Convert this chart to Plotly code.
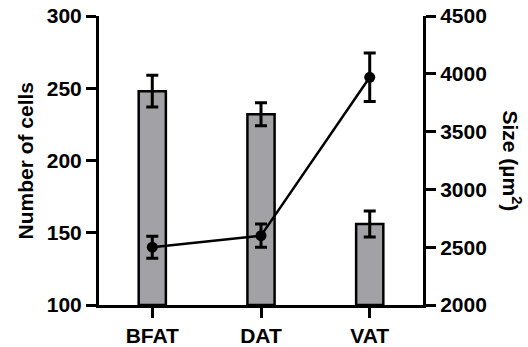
import plotly.graph_objects as go

categories = ["BFAT", "DAT", "VAT"]
cell_counts = [248, 232, 156]
cell_err = [11, 8, 9]
size_vals = [2500, 2600, 3970]
size_err = [95, 100, 210]

FONT = "Arial, Liberation Sans, sans-serif"

fig = go.Figure()
fig.add_trace(go.Bar(
    x=categories, y=[c - 100 for c in cell_counts], base=100,
    width=0.25,
    marker=dict(color="#a2a1a6", line=dict(color="black", width=2.5)),
    error_y=dict(type="data", array=cell_err, color="black", thickness=3, width=6),
    showlegend=False, cliponaxis=False,
))
fig.add_trace(go.Scatter(
    x=categories, y=size_vals, yaxis="y2", mode="lines+markers",
    line=dict(color="black", width=2.5),
    marker=dict(color="black", size=11),
    error_y=dict(type="data", array=size_err, color="black", thickness=3, width=6),
    showlegend=False, cliponaxis=False,
))

tickfont = dict(family=FONT, size=21, color="black", weight="bold")
axis_common = dict(showline=True, linecolor="black", linewidth=3,
                   ticks="outside", ticklen=10, tickwidth=2.5, tickcolor="black",
                   tickfont=tickfont, showgrid=False, zeroline=False, fixedrange=True)
fig.update_layout(
    width=528, height=347,
    margin=dict(l=99, r=105, t=16, b=42, autoexpand=False),
    plot_bgcolor="white", paper_bgcolor="white",
    xaxis=dict(range=[-0.49, 2.49], **axis_common),
    yaxis=dict(range=[100, 300], tickvals=[100, 150, 200, 250, 300], **axis_common),
    yaxis2=dict(range=[2000, 4500], tickvals=[2000, 2500, 3000, 3500, 4000, 4500],
                overlaying="y", side="right", **axis_common),
    annotations=[
        dict(text="Number of cells", x=0, xshift=-74, y=0.5, xref="paper", yref="paper",
             showarrow=False, textangle=-90, xanchor="center", yanchor="middle",
             font=dict(family=FONT, size=21, color="black", weight="bold")),
        dict(text="Size (µm<sup>2</sup>)", x=1, xshift=89, y=0.5, xref="paper", yref="paper",
             showarrow=False, textangle=90, xanchor="center", yanchor="middle",
             font=dict(family=FONT, size=21, color="black", weight="bold")),
    ],
)

fig.write_html("out.html", config={"displayModeBar": False},
               post_script="document.body.style.margin='0';")
